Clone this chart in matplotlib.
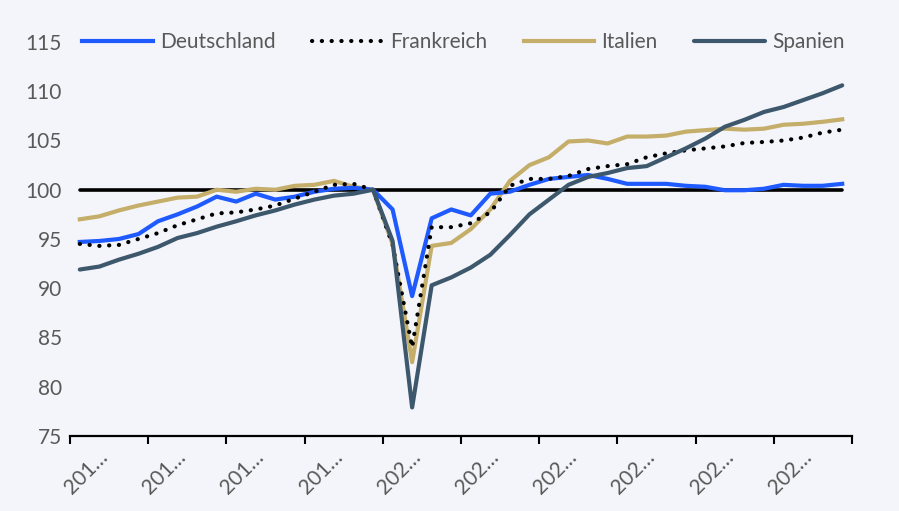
import numpy as np
import matplotlib
matplotlib.use("Agg")
import matplotlib.pyplot as plt

# quarterly index, 2019Q4 = 100, from 2016Q1 to 2025Q4
deutschland = [94.7, 94.8, 95.0, 95.5, 96.8, 97.5, 98.3, 99.3, 98.8, 99.6,
               99.0, 99.3, 99.8, 100.1, 100.2, 100.0, 98.0, 89.2, 97.1, 98.0,
               97.4, 99.6, 99.8, 100.5, 101.1, 101.3, 101.5, 101.1, 100.6, 100.6,
               100.6, 100.4, 100.3, 99.95, 99.95, 100.1, 100.5, 100.4, 100.4, 100.6]
frankreich = [94.5, 94.3, 94.4, 95.0, 95.6, 96.4, 97.0, 97.6, 97.7, 98.0,
              98.4, 99.1, 99.8, 100.5, 100.6, 100.0, 94.4, 84.0, 96.2, 96.2,
              96.6, 97.7, 100.4, 101.1, 101.1, 101.4, 102.1, 102.4, 102.6, 103.3,
              103.7, 104.0, 104.2, 104.4, 104.75, 104.85, 105.0, 105.3, 105.8, 106.1]
italien = [97.0, 97.3, 97.9, 98.4, 98.8, 99.2, 99.3, 100.0, 99.8, 100.1,
           100.0, 100.4, 100.5, 100.9, 100.3, 100.0, 94.5, 82.5, 94.3, 94.6,
           96.0, 98.0, 100.9, 102.5, 103.3, 104.9, 105.0, 104.7, 105.4, 105.4,
           105.5, 105.9, 106.05, 106.2, 106.1, 106.2, 106.6, 106.7, 106.9, 107.15]
spanien = [91.9, 92.2, 92.9, 93.5, 94.2, 95.1, 95.6, 96.25, 96.8, 97.4,
           97.9, 98.5, 99.0, 99.4, 99.6, 100.0, 94.8, 77.9, 90.3, 91.1,
           92.1, 93.4, 95.4, 97.5, 99.0, 100.5, 101.3, 101.7, 102.2, 102.4,
           103.3, 104.2, 105.2, 106.4, 107.1, 107.9, 108.4, 109.1, 109.8, 110.6]
basis = [100.0] * 40

year_labels = ["201…", "201…", "201…", "201…", "202…",
               "202…", "202…", "202…", "202…", "202…"]

BG = "#F4F5FA"
TXT = "#595959"

plt.rcParams["font.family"] = ["Lato", "DejaVu Sans"]

fig = plt.figure(figsize=(8.99, 5.11), dpi=100, facecolor=BG)
ax = fig.add_axes([0.0779, 0.1468, 0.8698, 0.7710], facecolor=BG)

x = np.arange(len(deutschland))
ax.plot(x, basis, color="black", lw=2.6, solid_capstyle="round", zorder=1)
ax.plot(x, deutschland, color="#1F5AFF", lw=3.0, label="Deutschland", zorder=3)
ax.plot(x, frankreich, color="black", lw=3.0, linestyle=(0, (0.05, 2.3)),
        dash_capstyle="round", label="Frankreich", zorder=4)
ax.plot(x, italien, color="#C4AE6A", lw=3.0, label="Italien", zorder=2)
ax.plot(x, spanien, color="#3D586C", lw=3.0, solid_capstyle="round",
        label="Spanien", zorder=5)

ax.set_xlim(-0.5, 39.5)
ax.set_ylim(75, 115)
ax.set_yticks(range(75, 116, 5))
ax.tick_params(axis="y", length=0, labelsize=15, labelcolor=TXT, pad=6)

ax.set_xticks(np.arange(-0.5, 40, 4))
ax.set_xticklabels([])
ax.tick_params(axis="x", which="major", length=6, width=1.5, color="black")
ax.set_xticks(np.arange(0, 40, 4) + 0.9, minor=True)
ax.set_xticklabels(year_labels, minor=True, rotation=45, ha="right",
                   rotation_mode="anchor", fontsize=15, color=TXT)
ax.tick_params(axis="x", which="minor", length=0, pad=8)

for s in ["top", "right", "left"]:
    ax.spines[s].set_visible(False)
ax.spines["bottom"].set_linewidth(1.6)

leg = ax.legend(loc="center", bbox_to_anchor=(0.503, 1.0), ncol=4, frameon=False,
                fontsize=15, handlelength=3.4, handletextpad=0.34,
                columnspacing=1.75, borderaxespad=0)
for t in leg.get_texts():
    t.set_color(TXT)

fig.savefig("out.png", dpi=100, facecolor=BG)
